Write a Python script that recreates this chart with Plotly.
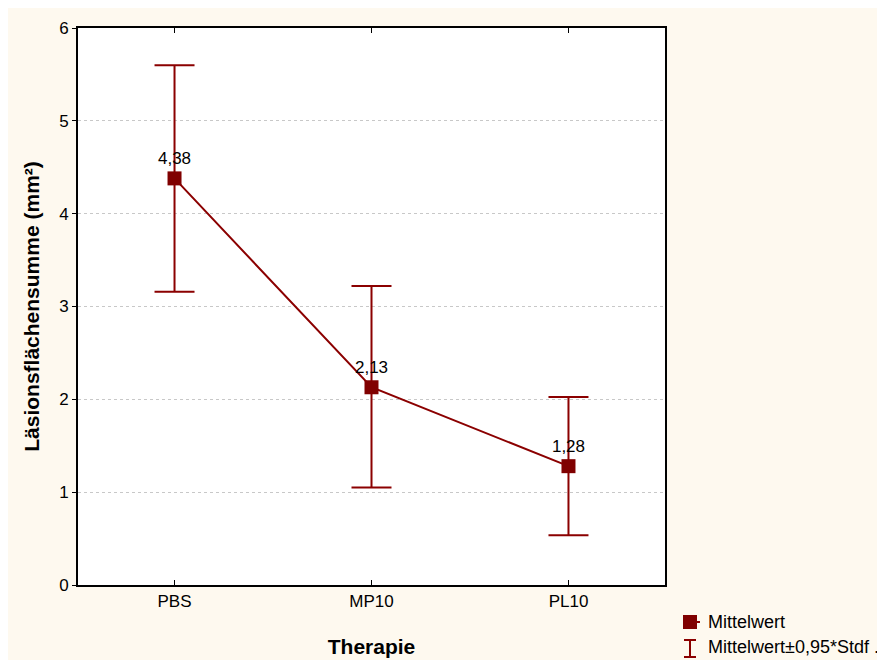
import plotly.graph_objects as go

categories = ["PBS", "MP10", "PL10"]
means = [4.38, 2.13, 1.28]
err_plus = [1.22, 1.09, 0.745]
err_minus = [1.22, 1.08, 0.745]
y_ticks = [0, 1, 2, 3, 4, 5, 6]
legend_labels = ["Mittelwert", "Mittelwert±0,95*Stdf ."]

RED = "#800000"
LINE_RED = "#8B0000"
CREAM = "#FEF9EF"
FONT = "Liberation Sans, Arial"

labels = [f"{v:.2f}".replace(".", ",") for v in means]

fig = go.Figure()
fig.add_trace(go.Scatter(
    x=categories, y=means, mode="lines+markers+text",
    line=dict(color=LINE_RED, width=2),
    marker=dict(symbol="square", size=14, color=RED),
    text=labels, textposition="top center",
    textfont=dict(family=FONT, size=17, color="black"),
    error_y=dict(type="data", symmetric=False, array=err_plus, arrayminus=err_minus,
                 color=LINE_RED, thickness=2, width=20),
    showlegend=False, cliponaxis=False,
))

# page has an 8px body margin; figure sits at (8, 8)
OX, OY = 8, 8
W, H = 885 - OX, 660 - OY
PL, PR, PT, PB = 78, 665, 28, 585  # plot-area edges in page pixels
L, R, T, B = PL - OX, 885 - PR, PT - OY, 660 - PB
pw, ph = PR - PL, PB - PT

def px(x):
    return (x - PL) / pw

def py(y):
    return (PB - y) / ph

shapes = [
    # legend symbols
    dict(type="rect", xref="paper", yref="paper", x0=px(683), x1=px(697), y0=py(629), y1=py(615),
         fillcolor=RED, line=dict(width=0)),
    dict(type="line", xref="paper", yref="paper", x0=px(697), x1=px(700), y0=py(622), y1=py(622),
         line=dict(color=LINE_RED, width=2)),
    dict(type="line", xref="paper", yref="paper", x0=px(690), x1=px(690), y0=py(640), y1=py(657),
         line=dict(color=LINE_RED, width=2)),
    dict(type="line", xref="paper", yref="paper", x0=px(684), x1=px(696), y0=py(640), y1=py(640),
         line=dict(color=LINE_RED, width=2)),
    dict(type="line", xref="paper", yref="paper", x0=px(684), x1=px(696), y0=py(657), y1=py(657),
         line=dict(color=LINE_RED, width=2)),
]

annotations = [
    dict(text=legend_labels[0], xref="paper", yref="paper", x=px(706), y=py(622),
         xanchor="left", yanchor="middle", showarrow=False,
         font=dict(family=FONT, size=18, color="black")),
    dict(text=legend_labels[1], xref="paper", yref="paper", x=px(706), y=py(647),
         xanchor="left", yanchor="middle", showarrow=False,
         font=dict(family=FONT, size=18, color="black")),
]

fig.update_layout(
    width=W, height=H,
    margin=dict(l=L, r=R, t=T, b=B, pad=0, autoexpand=False),
    paper_bgcolor=CREAM, plot_bgcolor="white",
    font=dict(family=FONT, size=17, color="black"),
    shapes=shapes, annotations=annotations,
    showlegend=False,
)
fig.update_xaxes(
    type="category", range=[-0.49, 2.49], automargin=False,
    showline=True, linecolor="black", linewidth=2, mirror="ticks",
    ticks="inside", ticklen=5, tickcolor="black", tickwidth=1,
    showgrid=False, zeroline=False,
    title=dict(text="<b>Therapie</b>", font=dict(size=21), standoff=29),
    tickfont=dict(size=17),
)
fig.update_yaxes(
    range=[0, 6], tickvals=y_ticks, automargin=False,
    showline=True, linecolor="black", linewidth=2, mirror=True,
    ticks="outside", ticklen=4, tickcolor="black", tickwidth=1,
    showgrid=True, gridcolor="#C8C8C8", griddash="dot", gridwidth=1,
    zeroline=False,
    title=dict(text="<b>Läsionsflächensumme (mm²)</b>", font=dict(size=21), standoff=14),
    tickfont=dict(size=17),
)

fig.write_html("out.html")
